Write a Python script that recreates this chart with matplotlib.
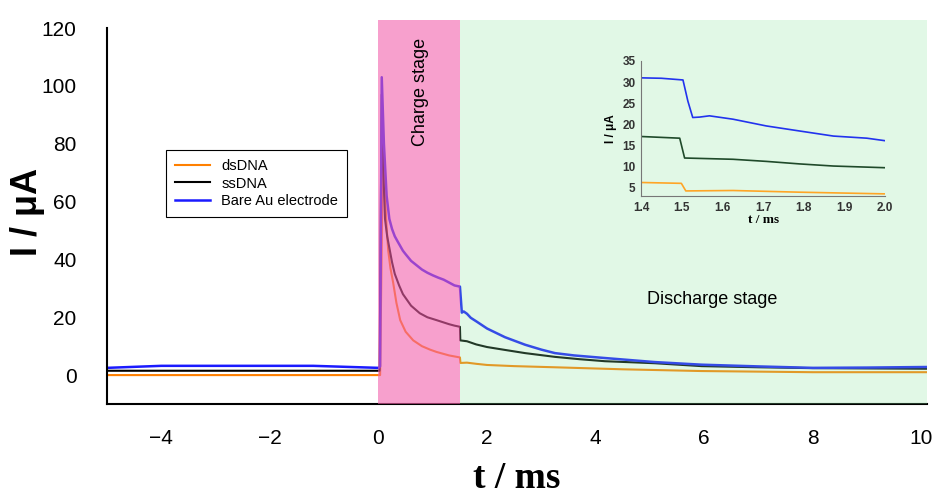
import matplotlib.pyplot as plt

plt.rcParams['font.family'] = ['Liberation Sans', 'DejaVu Sans']

# main traces, t in ms, I in uA
t_bare = [-5, -4.0, -1.2, 0.0, 0.03, 0.06, 0.1, 0.15, 0.2, 0.25, 0.3, 0.35, 0.45, 0.5, 0.6, 0.7,
          0.8, 0.9, 1.0, 1.1, 1.2, 1.3, 1.4, 1.5,
          1.52, 1.535, 1.57, 1.63, 1.7, 1.8, 2.0, 2.33, 2.7, 3.0, 3.25, 3.6, 4.17, 5.09, 5.95,
          7.0, 8.0, 9.0, 10.1]
i_bare = [2.5, 3.2, 3.2, 2.5, 3.0, 103, 80, 62, 54, 50.5, 48, 46.3, 43, 41.8, 39.5, 38,
          36.5, 35.4, 34.5, 33.7, 33, 32, 31, 30.6,
          25.5, 21.6, 22.0, 21.2, 19.8, 18.6, 16.1, 13.1, 10.5, 8.8, 7.6, 6.8, 5.9, 4.5, 3.6,
          3.0, 2.5, 2.6, 2.8]

t_ss = [-5, 0.02, 0.04, 0.06, 0.09, 0.12, 0.16, 0.2, 0.25, 0.3, 0.38, 0.45, 0.6, 0.76, 0.9,
        1.07, 1.3, 1.4, 1.5,
        1.507, 1.63, 1.8, 2.0, 2.33, 2.7, 3.25, 3.7, 4.17, 5.09, 5.95, 7.0, 8.0, 10.1]
i_ss = [1.5, 1.5, 50, 97, 70, 54, 48, 44, 39, 35, 31, 28, 24, 21.4, 20,
        19, 17.6, 17.1, 16.7,
        12.0, 11.7, 10.6, 9.7, 8.7, 7.6, 6.3, 5.5, 4.8, 4.1, 3.1, 2.7, 2.4, 2.2]

t_ds = [-5, 0.03, 0.05, 0.08, 0.11, 0.15, 0.18, 0.22, 0.27, 0.33, 0.4, 0.5, 0.64, 0.8, 0.95,
        1.07, 1.3, 1.5,
        1.51, 1.63, 1.8, 2.0, 2.5, 3.25, 4.5, 5.95, 8.0, 10.1]
i_ds = [0.0, 0.0, 30, 78, 65, 51, 43, 37, 32, 25, 19, 15, 12, 10, 8.8,
        8, 6.8, 6.1,
        4.2, 4.3, 3.9, 3.5, 3.1, 2.7, 2.0, 1.4, 1.0, 1.0]

# inset traces
ti_bare = [1.4, 1.45, 1.503, 1.515, 1.527, 1.544, 1.568, 1.626, 1.708, 1.79, 1.873, 1.955, 2.0]
ii_bare = [31.0, 30.9, 30.5, 25.5, 21.6, 21.7, 22.0, 21.2, 19.6, 18.4, 17.2, 16.7, 16.1]
ti_ss = [1.4, 1.495, 1.507, 1.626, 1.708, 1.79, 1.873, 2.0]
ii_ss = [17.1, 16.7, 12.0, 11.7, 11.2, 10.6, 10.1, 9.7]
ti_ds = [1.4, 1.499, 1.51, 1.626, 1.79, 2.0]
ii_ds = [6.2, 6.0, 4.2, 4.3, 3.9, 3.5]

charge = (0.0, 1.5)
discharge = (1.5, 10.1)

fig = plt.figure(figsize=(9.4, 5.01), dpi=100)
ax = fig.add_axes([0.1138, 0.1936, 0.8723, 0.7665])

ax.plot(t_ds, i_ds, color='#ff8000', lw=1.5, label='dsDNA', zorder=2)
ax.plot(t_ss, i_ss, color='black', lw=1.5, label='ssDNA', zorder=2)
ax.plot(t_bare, i_bare, color='#1a1aff', lw=1.8, label='Bare Au electrode', zorder=2)

# translucent stage overlays on top of the traces
ax.axvspan(*charge, color=(243/255, 97/255, 172/255), alpha=0.6, lw=0, zorder=3)
ax.axvspan(*discharge, color=(136/255, 228/255, 156/255), alpha=0.25, lw=0, zorder=3)

ax.text(0.78, 98, 'Charge stage', rotation=90, ha='center', va='center', fontsize=13, zorder=5)
ax.text(6.15, 26, 'Discharge stage', ha='center', va='center', fontsize=13, zorder=5)

ax.set_xlim(-5, 10.1)
ax.set_ylim(-10, 122.8)
ax.set_xticks([-4, -2, 0, 2, 4, 6, 8, 10])
ax.set_xticklabels(['\u22124', '\u22122', '0', '2', '4', '6', '8', '10'])
ax.set_yticks([0, 20, 40, 60, 80, 100, 120])
ax.tick_params(length=0, labelsize=15)
ax.tick_params(axis='y', pad=22)
ax.tick_params(axis='x', pad=18)
for s in ['top', 'right']:
    ax.spines[s].set_visible(False)
ax.spines['left'].set_bounds(-10, 120)
ax.spines['left'].set_linewidth(1.5)
ax.spines['bottom'].set_linewidth(1.5)

ax.set_xlabel('t / ms', fontsize=27, fontweight='bold', family='Liberation Serif', labelpad=9)
ax.set_ylabel('I / \u03bcA', fontsize=26, fontweight='bold', labelpad=-3)

leg = ax.legend(loc='upper left', bbox_to_anchor=(0.063, 0.68), fontsize=10.5, frameon=True,
                fancybox=False, edgecolor='black', framealpha=1, handlelength=2.4,
                borderpad=0.6, labelspacing=0.25)
leg.get_frame().set_linewidth(0.8)

# inset
ins = fig.add_axes([0.682, 0.6088, 0.2596, 0.2695])
ins.set_facecolor('none')
ins.plot(ti_bare, ii_bare, color='#2233ee', lw=1.2)
ins.plot(ti_ss, ii_ss, color='#1f4a2a', lw=1.2)
ins.plot(ti_ds, ii_ds, color='#ffa526', lw=1.2)
ins.set_xlim(1.4, 2.0)
ins.set_ylim(3, 35)
ins.set_xticks([1.4, 1.5, 1.6, 1.7, 1.8, 1.9, 2.0])
ins.set_yticks([5, 10, 15, 20, 25, 30, 35])
ins.tick_params(length=0, labelsize=8.5, colors='#333333', pad=4)
for lab in ins.get_xticklabels() + ins.get_yticklabels():
    lab.set_fontweight('bold')
for s in ['top', 'right']:
    ins.spines[s].set_visible(False)
ins.spines['left'].set_color('#777777')
ins.spines['bottom'].set_color('#777777')
ins.set_xlabel('t / ms', fontsize=9.5, fontweight='bold', family='Liberation Serif', labelpad=0)
ins.set_ylabel('I / \u03bcA', fontsize=8.5, fontweight='bold', labelpad=4)

fig.savefig('out.png', dpi=100)
